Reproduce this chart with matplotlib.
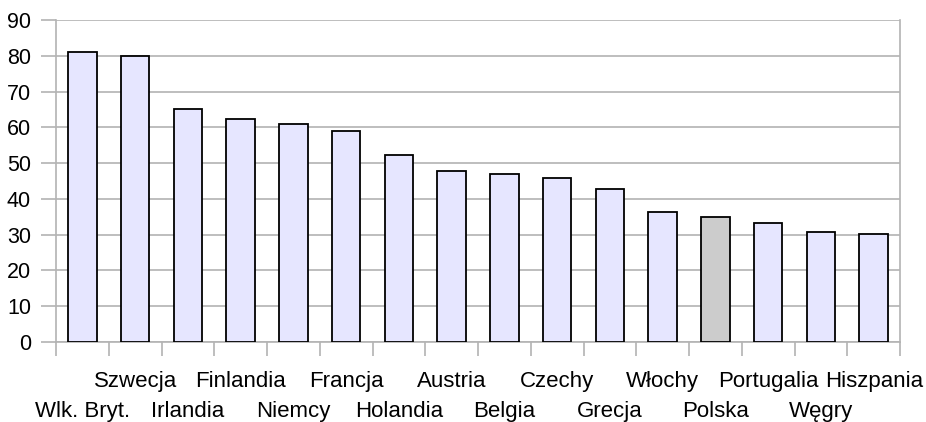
import numpy as np
import matplotlib.pyplot as plt
from matplotlib.ticker import FixedLocator

plt.rcParams['font.family'] = ['Liberation Sans', 'DejaVu Sans']

countries = ['Wlk. Bryt.', 'Szwecja', 'Irlandia', 'Finlandia', 'Niemcy', 'Francja',
             'Holandia', 'Austria', 'Belgia', 'Czechy', 'Grecja', 'Włochy',
             'Polska', 'Portugalia', 'Węgry', 'Hiszpania']
values = [81.0, 79.8, 65.2, 62.3, 61.0, 59.1, 52.4, 47.7, 47.0, 45.9, 42.8,
          36.2, 35.0, 33.2, 30.8, 30.2]
highlight = 'Polska'

fig = plt.figure(figsize=(9.26, 4.22), dpi=100)
ax = fig.add_axes([0.0605, 0.1896, 0.9115, 0.763])

x = np.arange(len(countries))
colors = ['#cccccc' if c == highlight else '#e6e6ff' for c in countries]
ax.bar(x, values, width=0.54, color=colors, edgecolor='black', linewidth=1.3, zorder=3)

ax.set_xlim(-0.5, len(countries) - 0.5)
ax.set_ylim(0, 90)
ax.set_yticks(np.arange(0, 91, 10))
ax.yaxis.grid(True, color='#b3b3b3', linewidth=1.2, zorder=0)
ax.tick_params(axis='y', length=11, color='#b3b3b3', width=1.2, labelsize=15.5, pad=7)

# tick marks between categories, labels placed in two staggered rows
ax.xaxis.set_major_locator(FixedLocator(np.arange(-0.5, len(countries), 1)))
ax.set_xticklabels([])
ax.tick_params(axis='x', length=10, color='#b3b3b3', width=1.2)

trans = ax.get_xaxis_transform()
for i, name in enumerate(countries):
    yoff = -0.140 if i % 2 else -0.233
    ax.text(i, yoff, name, transform=trans, ha='center', va='baseline', fontsize=16)

for side in ['left', 'right', 'bottom']:
    ax.spines[side].set_color('#b3b3b3')
    ax.spines[side].set_linewidth(1.2)
ax.spines['top'].set_visible(False)

fig.savefig('out.png', dpi=100)
